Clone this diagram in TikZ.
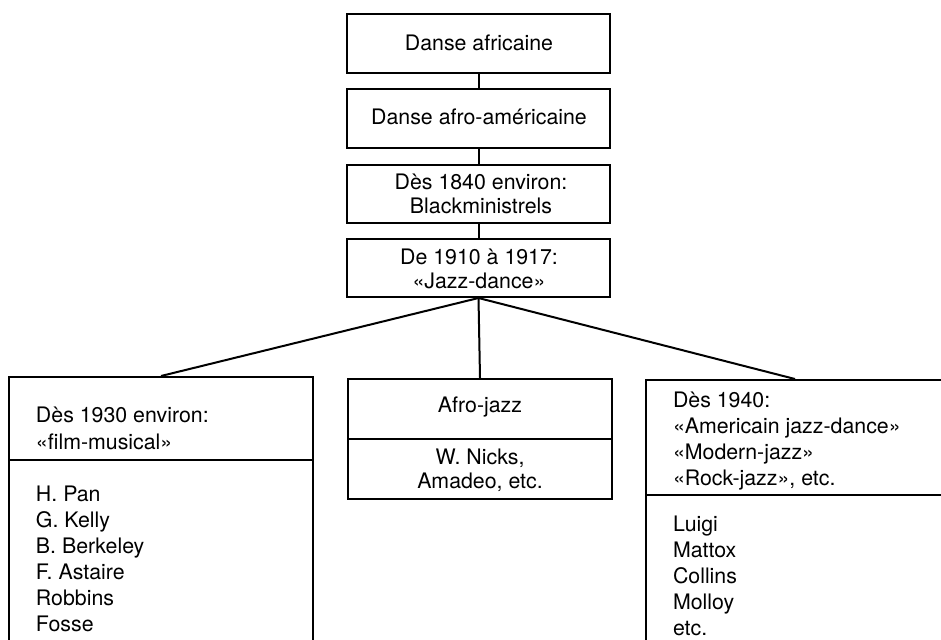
\documentclass[tikz,border=0pt]{standalone}
\usepackage{fontspec}
\setmainfont{TeX Gyre Heros}
\begin{document}
\begin{tikzpicture}[x=0.75pt,y=-0.75pt, line width=1.5pt,
  frame/.style n args={2}{draw, line width=1.5pt, minimum width=#1*0.75pt, minimum height=#2*0.75pt, inner sep=0pt},
  link/.style={line width=1.5pt},
  label/.style={inner sep=0pt, font=\fontsize{16}{18}\selectfont, align=center},
  listing/.style={inner sep=0pt, font=\fontsize{16}{19.5}\selectfont, align=left, anchor=west}]
\useasboundingbox (0,0) rectangle (941,639);
\clip (0,0) rectangle (941,639);
% top chain
\node[frame={263}{59}] (b1) at (478.5,43.5) {};
\node[frame={263}{59}] (b2) at (478.5,118.5) {};
\node[frame={263}{58}] (b3) at (478.5,194) {};
\node[frame={263}{58}] (b4) at (478.5,268) {};
\node[label] (t1) at (479,43) {Danse africaine};
\node[label] (t2) at (479,117) {Danse afro-américaine};
\node[label] (t3) at (481,194) {Dès 1840 environ:\\Blackministrels};
\node[label] (t4) at (479,268.5) {De 1910 à 1917:\\«Jazz-dance»};
% lower boxes
\node[frame={304}{323}] (left) at (161,538.5) {};
\node[frame={264}{120}] (mid) at (480,439) {};
\node[frame={298}{320}] (right) at (795,540) {};
\draw[link] (left.west |- {(0,460)}) -- (left.east |- {(0,460)});
\draw[link] (mid.west) -- (mid.east);
\draw[link] (right.west |- {(0,495)}) -- (right.east |- {(0,495)});
% connectors
\draw[link] (b1) -- (b2);
\draw[link] (b2) -- (b3);
\draw[link] (b3) -- (b4);
\draw[link] (b4.south) -- (left.north);
\draw[link] (b4.south) -- (mid.north);
\draw[link] (b4.south) -- (right.north);
% texts
\node[listing, font=\fontsize{16}{20.25}\selectfont] (l1) at (35,428.5) {Dès 1930 environ:\\«film-musical»};
\node[listing] (l2) at (35,558.5) {H. Pan\\G. Kelly\\B. Berkeley\\F. Astaire\\Robbins\\Fosse};
\node[label] (m1) at (480,407) {Afro-jazz};
\node[label] (m2) at (480,470.5) {W. Nicks,\\Amadeo, etc.};
\node[listing] (r1) at (672,441) {Dès 1940:\\«Americain jazz-dance»\\«Modern-jazz»\\«Rock-jazz», etc.};
\node[listing] (r2) at (672,576) {Luigi\\Mattox\\Collins\\Molloy\\etc.};
\end{tikzpicture}
\end{document}
